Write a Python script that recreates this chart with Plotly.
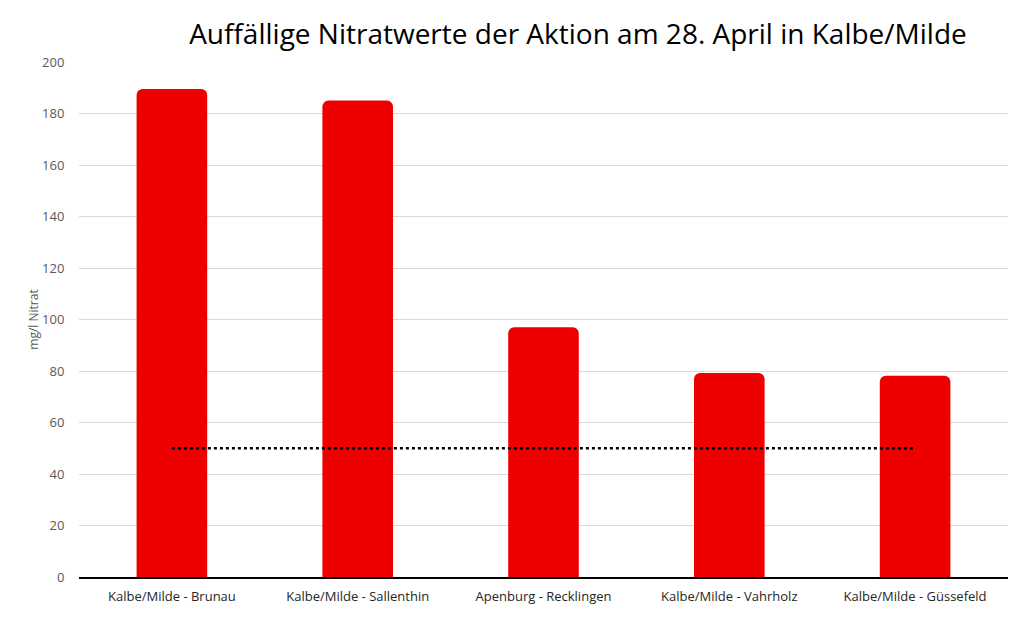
import plotly.graph_objects as go

STATIONS = ["Kalbe/Milde - Brunau", "Kalbe/Milde - Sallenthin", "Apenburg - Recklingen",
            "Kalbe/Milde - Vahrholz", "Kalbe/Milde - Güssefeld"]
NITRAT = [189.5, 185, 97, 79.2, 78.2]
GRENZWERT = [50, 50, 50, 50, 50]
Y_TICKS = [0, 20, 40, 60, 80, 100, 120, 140, 160, 180, 200]

fig = go.Figure()

fig.add_trace(go.Bar(x=STATIONS, y=NITRAT, name="Nitrat",
                     marker=dict(color="#EE0000", cornerradius=6, line=dict(width=0))))

# Grenzwert 50 mg/l als gepunktete Linie
fig.add_trace(go.Scatter(x=STATIONS, y=GRENZWERT, mode="lines", name="Grenzwert",
                         line=dict(color="black", width=2.5, dash="dot")))

# page body has an 8px margin, margins below account for that
fig.update_layout(
    width=1027, height=622,
    plot_bgcolor="white", paper_bgcolor="white",
    showlegend=False,
    bargap=0.62,
    margin=dict(l=71, r=27, t=54, b=53, autoexpand=False),
    font=dict(family="Open Sans", size=12, color="#595959"),
    title=dict(text="Auffällige Nitratwerte der Aktion am 28. April in Kalbe/Milde",
               x=0.555, xanchor="center", y=0.958, yanchor="middle",
               font=dict(family="Open Sans", size=28, color="black")),
)

fig.update_yaxes(range=[0, 200], tickvals=Y_TICKS, showgrid=True, gridcolor="#D9D9D9",
                 gridwidth=1, zeroline=False, showline=False, automargin=False,
                 ticks="outside", ticklen=11, tickcolor="rgba(0,0,0,0)",
                 tickfont=dict(size=13, color="#595959"),
                 title=dict(text="mg/l Nitrat", font=dict(size=12, color="#595959"), standoff=0))
fig.update_xaxes(showline=True, linecolor="black", linewidth=1.5, showgrid=False,
                 ticks="outside", ticklen=7, tickcolor="rgba(0,0,0,0)", automargin=False,
                 tickfont=dict(size=13, color="#262626"))

fig.write_html("out.html")
